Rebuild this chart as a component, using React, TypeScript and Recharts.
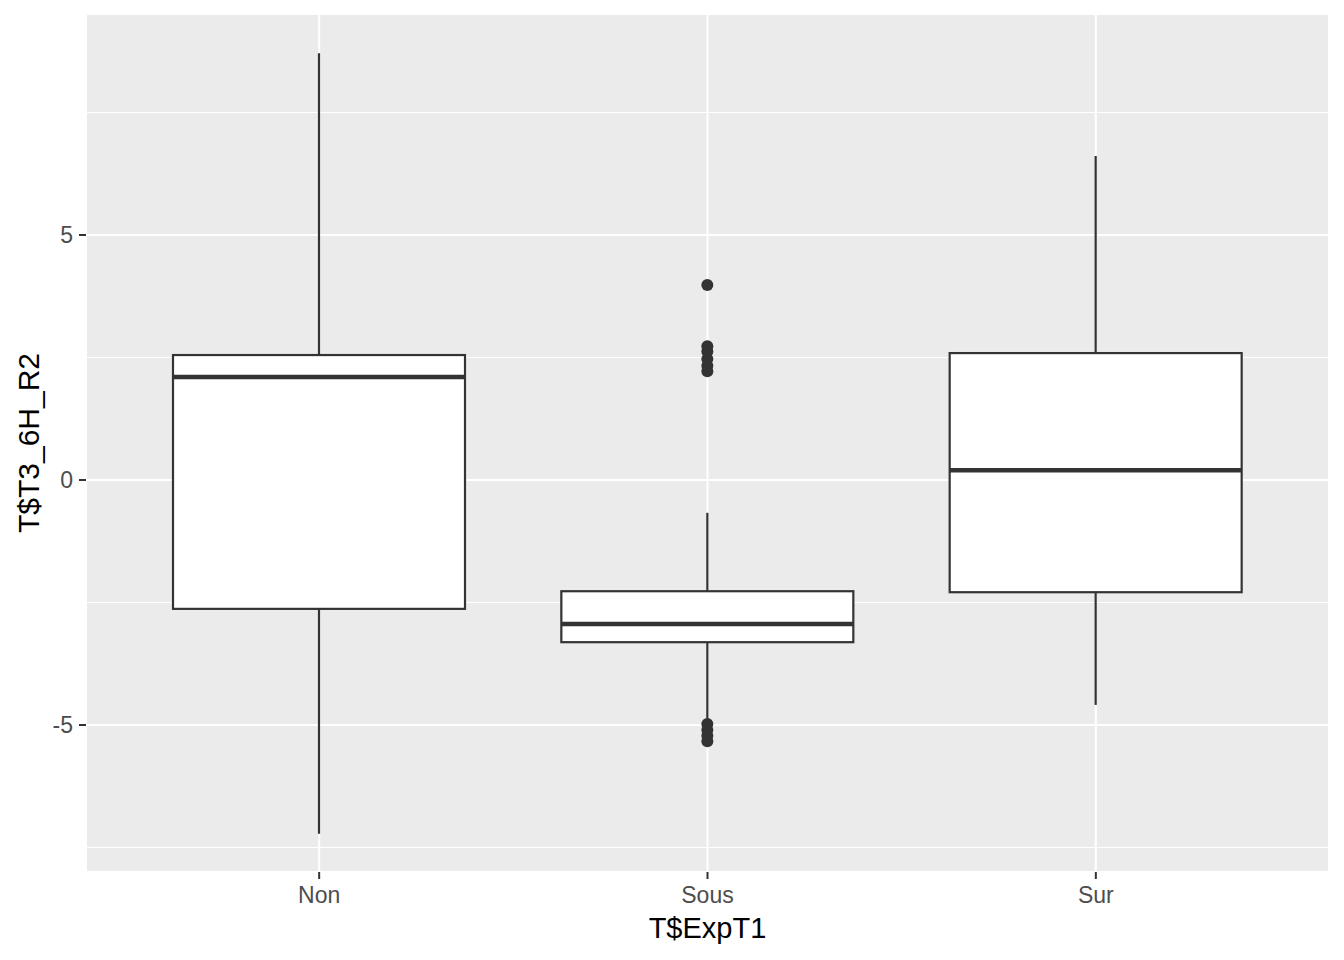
import React from "react";
import {
  Bar,
  CartesianGrid,
  ComposedChart,
  Label,
  XAxis,
  YAxis,
} from "recharts";

// box statistics
const categories = ["Non", "Sous", "Sur"];
const lowerWhisker = [-7.22, -4.9, -4.59];
const firstQuartile = [-2.63, -3.31, -2.29];
const medians = [2.1, -2.94, 0.2];
const thirdQuartile = [2.55, -2.27, 2.59];
const upperWhisker = [8.71, -0.67, 6.61];
const outliers: number[][] = [
  [],
  [3.98, 2.73, 2.62, 2.47, 2.33, 2.22, -4.98, -5.1, -5.22, -5.33],
  [],
];
const yTicks = [-5, 0, 5];
const yMinorTicks = [-7.5, -2.5, 2.5, 7.5];

const rows = categories.map((name, i) => ({
  name,
  low: lowerWhisker[i],
  q1: firstQuartile[i],
  median: medians[i],
  q3: thirdQuartile[i],
  high: upperWhisker[i],
  outliers: outliers[i],
}));

const INK = "#333333";

function BoxShape(props: any) {
  const { x, y, width, height, payload } = props;
  if (!payload || height == null) return null;
  const top = Math.min(y, y + height);
  const span = Math.abs(height);
  const range = payload.high - payload.low;
  // linear map using the pixel extent the axis gave the whisker range
  const py = (v: number) => top + ((payload.high - v) / range) * span;
  const cx = x + width / 2;
  return (
    <g>
      <line x1={cx} x2={cx} y1={py(payload.high)} y2={py(payload.q3)} stroke={INK} strokeWidth={2.2} />
      <line x1={cx} x2={cx} y1={py(payload.q1)} y2={py(payload.low)} stroke={INK} strokeWidth={2.2} />
      <rect
        x={x}
        y={py(payload.q3)}
        width={width}
        height={py(payload.q1) - py(payload.q3)}
        fill="#FFFFFF"
        stroke={INK}
        strokeWidth={2.2}
      />
      <line x1={x} x2={x + width} y1={py(payload.median)} y2={py(payload.median)} stroke={INK} strokeWidth={4.5} />
      {payload.outliers.map((v: number, k: number) => (
        <circle key={k} cx={cx} cy={py(v)} r={6} fill={INK} />
      ))}
    </g>
  );
}

export default function App(): React.ReactElement {
  return (
    <div style={{ position: "absolute", left: 0, top: 0, fontFamily: "'Liberation Sans', Arial, sans-serif" }}>
      <ComposedChart
        width={1344}
        height={960}
        data={rows}
        margin={{ top: 14, right: 15, bottom: 28, left: 0 }}
      >
        <CartesianGrid
          fill="#EBEBEB"
          stroke="#FFFFFF"
          strokeWidth={1}
          vertical={false}
          horizontalValues={yMinorTicks}
        />
        <CartesianGrid stroke="#FFFFFF" strokeWidth={2} />
        <XAxis
          dataKey="name"
          type="category"
          padding={{ left: 39, right: 39 }}
          axisLine={false}
          tickLine={{ stroke: INK, strokeWidth: 2 }}
          tickSize={7}
          tickMargin={8}
          tick={{ fill: "#4D4D4D", fontSize: 23 }}
          height={60}
        >
          <Label
            content={({ viewBox }: any) => (
              <text
                x={viewBox.x + viewBox.width / 2}
                y={938}
                textAnchor="middle"
                fontSize={29}
                fill="#000000"
              >
                T$ExpT1
              </text>
            )}
          />
        </XAxis>
        <YAxis
          type="number"
          domain={[-8.0, 9.51]}
          allowDataOverflow
          ticks={yTicks}
          width={86}
          axisLine={false}
          tickLine={{ stroke: INK, strokeWidth: 2 }}
          tickSize={7}
          tickMargin={6}
          tick={{ fill: "#4D4D4D", fontSize: 23 }}
        >
          <Label
            content={({ viewBox }: any) => {
              const cy = viewBox.y + viewBox.height / 2;
              return (
                <text
                  x={39}
                  y={cy}
                  transform={`rotate(-90 39 ${cy})`}
                  textAnchor="middle"
                  fontSize={30}
                  fill="#000000"
                >
                  T$T3_6H_R2
                </text>
              );
            }}
          />
        </YAxis>
        <Bar
          dataKey={(d: any) => [d.low, d.high]}
          barSize={292}
          shape={BoxShape}
          isAnimationActive={false}
        />
      </ComposedChart>
    </div>
  );
}
